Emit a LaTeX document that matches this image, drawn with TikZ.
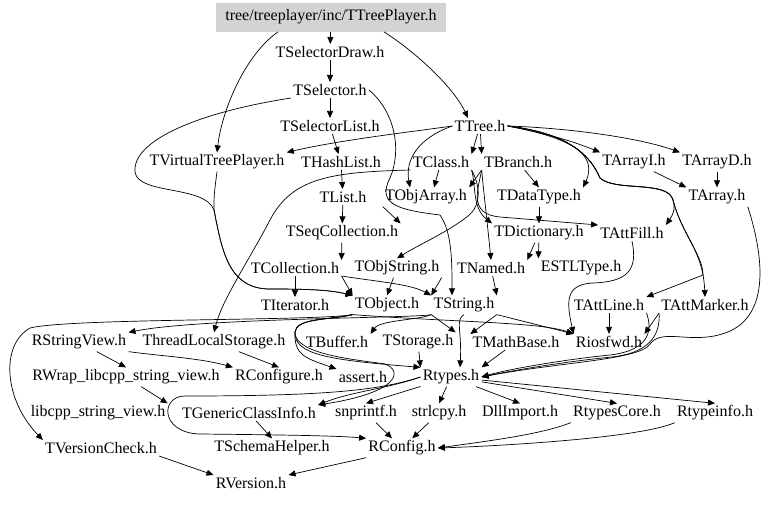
\documentclass[tikz,border=0pt]{standalone}
\usepackage{fontspec}
\setmainfont{Liberation Serif}
\usetikzlibrary{%
  arrows.meta,%
  positioning,%
  calc%
}

\begin{document}
\begin{tikzpicture}[
  x=1pt, y=-1pt,
  font=\fontsize{16}{18}\selectfont,
  >={Triangle[length=7pt,width=6pt]},
  line width=0.7pt,
  hdr/.style={inner sep=2pt},
  top/.style={hdr, fill={rgb,255:red,211;green,211;blue,211}, minimum width=230pt, minimum height=29pt},
]
\useasboundingbox (0,0) rectangle (768,504);

% row 0 .. 3
\node[top] (player) at (331,17) {tree/treeplayer/inc/TTreePlayer.h};
\node[hdr] (seldraw) at (330,52) {TSelectorDraw.h};
\node[hdr] (selector) at (330,90) {TSelector.h};
\node[hdr] (sellist) at (330,126) {TSelectorList.h};
\node[hdr] (tree) at (480,126) {TTree.h};

% row 4 .. 5
\node[hdr] (vtp) at (217,162) {TVirtualTreePlayer.h};
\node[hdr] (hashlist) at (341,162) {THashList.h};
\node[hdr] (tclass) at (441,162) {TClass.h};
\node[hdr] (tbranch) at (518,162) {TBranch.h};
\node[hdr] (tarrayi) at (634,162) {TArrayI.h};
\node[hdr] (tarrayd) at (717,162) {TArrayD.h};
\node[hdr] (tlist) at (343,197) {TList.h};
\node[hdr] (tobjarray) at (426,197) {TObjArray.h};
\node[hdr] (tdatatype) at (539,197) {TDataType.h};
\node[hdr] (tarray) at (717,197) {TArray.h};

% row 6 .. 8
\node[hdr] (tseqcoll) at (342,233) {TSeqCollection.h};
\node[hdr] (tdictionary) at (539,233) {TDictionary.h};
\node[hdr] (tattfill) at (632,233) {TAttFill.h};
\node[hdr] (tcollection) at (295,268) {TCollection.h};
\node[hdr] (tobjstring) at (397,268) {TObjString.h};
\node[hdr] (tnamed) at (491,268) {TNamed.h};
\node[hdr] (estltype) at (581,268) {ESTLType.h};
\node[hdr] (titerator) at (295,305) {TIterator.h};
\node[hdr] (tobject) at (387,305) {TObject.h};
\node[hdr] (tstring) at (464,305) {TString.h};
\node[hdr] (tattline) at (609,305) {TAttLine.h};
\node[hdr] (tattmarker) at (705,305) {TAttMarker.h};

% row 9 .. 10
\node[hdr] (rstringview) at (79,342) {RStringView.h};
\node[hdr] (threadls) at (214,342) {ThreadLocalStorage.h};
\node[hdr] (tbuffer) at (337,342) {TBuffer.h};
\node[hdr] (tstorage) at (418,342) {TStorage.h};
\node[hdr] (tmathbase) at (516,342) {TMathBase.h};
\node[hdr] (riosfwd) at (609,342) {Riosfwd.h};
\node[hdr] (rwrap) at (126,377) {RWrap\_libcpp\_string\_view.h};
\node[hdr] (rconfigure) at (279,377) {RConfigure.h};
\node[hdr] (assert) at (363,377) {assert.h};
\node[hdr] (rtypes) at (451,377) {Rtypes.h};

% row 11 .. 13
\node[hdr] (libcpp) at (98,413) {libcpp\_string\_view.h};
\node[hdr] (tgeneric) at (249,413) {TGenericClassInfo.h};
\node[hdr] (snprintf) at (366,413) {snprintf.h};
\node[hdr] (strlcpy) at (439,413) {strlcpy.h};
\node[hdr] (dllimport) at (520,413) {DllImport.h};
\node[hdr] (rtypescore) at (617,413) {RtypesCore.h};
\node[hdr] (rtypeinfo) at (715,413) {Rtypeinfo.h};
\node[hdr] (tversioncheck) at (101,448) {TVersionCheck.h};
\node[hdr] (tschema) at (272,448) {TSchemaHelper.h};
\node[hdr] (rconfig) at (402,448) {RConfig.h};
\node[hdr] (rversion) at (251,483) {RVersion.h};

% top part
\draw[->] (player) -- (seldraw);
\draw[->] ([xshift=-53pt]player.south) .. controls (245,55) and (222,110) .. (vtp.north);
\draw[->] ([xshift=53pt]player.south) .. controls (420,55) and (455,90) .. ([xshift=-12pt]tree.north);
\draw[->] (seldraw) -- (selector);
\draw[->] (selector) -- (sellist);
\draw[->] (sellist) -- (hashlist);
\draw[->] (selector.south west) .. controls (200,112) and (132,140) .. (135,172)
  .. controls (138,195) and (205,185) .. (214,210)
  .. controls (222,250) and (228,289) .. (270,289)
  .. controls (310,289) and (330,290) .. (tobject.north west);
\draw[->] (vtp.south) .. controls (214,195) .. (214,210)
  .. controls (222,250) and (228,289) .. (270,289)
  .. controls (310,289) and (330,290) .. (tobject.north west);
\draw[->] (selector.east) .. controls (395,112) and (402,150) .. (390,178)
  .. controls (376,205) and (400,210) .. (440,215)
  .. controls (452,232) and (452,262) .. ([xshift=-12pt]tstring.north);

% from TTree.h
\draw[->] (tree.west) .. controls (410,132) and (340,140) .. (vtp.north east);
\draw[->] (tree) -- (tclass.north east);
\draw[->] (tree) -- (tbranch.north west);
\draw[->] (tree.east) .. controls (540,132) and (570,140) .. (tarrayi.north west);
\draw[->] (tree.east) .. controls (570,128) and (640,138) .. (tarrayd.north west);
\draw[->] (tree.west) .. controls (418,138) and (405,160) .. ([xshift=-16pt]tobjarray.north);
\draw[->] (tree.east) .. controls (560,136) and (600,150) .. (tdatatype.north east);
\draw[->] (tree.east) .. controls (575,134) and (592,160) .. (600,178)
  .. controls (615,192) and (668,180) .. (673,200)
  .. controls (676,210) and (672,216) .. (tattfill.north east);
\draw[->] (tree.east) .. controls (575,134) and (592,160) .. (600,178)
  .. controls (615,192) and (668,180) .. (673,200)
  .. controls (682,235) and (703,250) .. (tattmarker.north);
\draw[->] (tree.east) .. controls (575,134) and (592,160) .. (600,178)
  .. controls (615,192) and (668,180) .. (673,200)
  .. controls (682,235) and (703,255) .. (703,275) -- (tattline.north east);

% middle part
\draw[->] (hashlist) -- (tlist);
\draw[->] (tclass) -- ([xshift=8pt]tobjarray.north);
\draw[->] (tclass.south west) .. controls (330,172) and (292,178) .. (270,220)
  .. controls (248,262) and (222,300) .. (threadls.north);
\draw[->] (tclass.south east) .. controls (480,185) and (482,205) .. (468,216)
  .. controls (448,232) and (420,244) .. (tobjstring.north);
\draw[->] (tclass.south east) .. controls (476,185) and (472,208) .. (tdictionary.north west);
\draw[->] (tbranch.south west) -- (tobjarray.north east);
\draw[->] (tbranch) -- (tdatatype.north);
\draw[->] (tbranch.south west) .. controls (484,195) and (487,220) .. (tnamed.north);
\draw[->] (tbranch.south west) .. controls (478,190) and (468,214) .. (500,217) -- (tattfill.north west);
\draw[->] (tarrayi) -- (tarray.north west);
\draw[->] (tarrayd) -- (tarray);
\draw[->] (tlist) -- (tseqcoll);
\draw[->] (tobjarray.south west) -- (tseqcoll.north east);
\draw[->] (tdatatype) -- (tdictionary);
\draw[->] (tseqcoll) -- (tcollection.north east);
\draw[->] (tdictionary) -- (tnamed.north east);
\draw[->] (tdictionary) -- (estltype.north west);
\draw[->] (tcollection) -- (titerator);
\draw[->] (tcollection.south east) -- (tobject.north west);
\draw[->] (tcollection.south east) .. controls (380,282) and (410,284) .. (tstring.north west);
\draw[->] (tobjstring) -- (tobject.north);
\draw[->] (tobjstring.south east) -- (tstring.north west);
\draw[->] (tnamed) -- (tstring.north east);
\draw[->] (tattfill.south) .. controls (638,270) and (628,282) .. (592,283)
  .. controls (566,285) and (566,300) .. (riosfwd.north west);
\draw[->] (tattline) -- (riosfwd);
\draw[->] (tattmarker.south west) -- (riosfwd.north east);
\draw[->] (tarray.south east) .. controls (765,260) and (770,320) .. (722,334)
  .. controls (690,344) and (662,328) .. (650,344)
  .. controls (640,360) and (560,362) .. (rtypes.east);
\draw[->] (tattline.south east) .. controls (652,328) and (652,350) .. (610,355)
  .. controls (560,360) and (505,370) .. (rtypes.east);
\draw[->] (tattmarker.south west) .. controls (660,330) and (655,352) .. (612,357)
  .. controls (560,362) and (505,372) .. (rtypes.east);

% from TObject.h and TString.h
\draw[->] (tobject.south west) .. controls (320,321) and (70,318) .. (30,328)
  .. controls (0,345) and (4,400) .. (tversioncheck.north west);
\draw[->] (tobject.south west) .. controls (450,322) and (540,322) .. (riosfwd.north west);
\draw[->] (tobject.south west) .. controls (330,320) and (296,318) .. (295,332)
  .. controls (294,355) and (305,358) .. (assert.north west);
\draw[->] (tobject.south west) .. controls (330,320) and (296,318) .. (295,332)
  .. controls (294,355) and (330,360) .. (rtypes.north west);
\draw[->] (tobject.south west) .. controls (330,320) and (296,318) .. (295,332)
  .. controls (294,355) and (360,360) .. (385,364)
  .. controls (402,370) and (402,392) .. (tgeneric.north east);
\draw[->] (tstring.south west) .. controls (420,318) and (200,318) .. (rstringview.north east);
\draw[->] (tstring.south west) .. controls (420,320) and (380,320) .. (tbuffer.north east);
\draw[->] (tstring.south west) -- (tstorage.north east);
\draw[->] (tstring.south east) -- (tmathbase.north west);
\draw[->] (tstring.south east) -- (riosfwd.north west);
\draw[->] (tstring.south) .. controls (455,320) and (462,330) .. ([xshift=9pt]rtypes.north);
\draw[->] (tstorage) -- (rtypes.north west);
\draw[->] (tmathbase) -- (rtypes.north east);

% lower part
\draw[->] (rstringview) -- (rwrap.north);
\draw[->] (rstringview.south east) .. controls (160,356) and (200,358) .. (rconfigure.north west);
\draw[->] (threadls) -- (rconfigure.north);
\draw[->] (rwrap) -- (libcpp.north east);
\draw[->] (rtypes.west) .. controls (390,388) and (350,392) .. (tgeneric.north east);
\draw[->] (rtypes.west) .. controls (380,390) and (330,396) .. (185,396)
  .. controls (160,396) and (160,433) .. (200,434)
  .. controls (300,435) and (340,436) .. (rconfig.north west);
\foreach \t in {snprintf,strlcpy,dllimport,rtypescore,rtypeinfo} {
  \draw[->] (rtypes) -- (\t.north);
}
\draw[->] (tgeneric) -- (tschema.north);
\draw[->] (snprintf) -- (rconfig);
\draw[->] (strlcpy) -- (rconfig);
\draw[->] (rtypescore.south west) .. controls (540,435) and (480,442) .. (rconfig.east);
\draw[->] (rtypeinfo.south west) .. controls (640,438) and (500,446) .. (rconfig.east);
\draw[->] (tversioncheck.south east) -- (rversion.north west);
\draw[->] (rconfig.south west) -- (rversion.north east);
\end{tikzpicture}
\end{document}
